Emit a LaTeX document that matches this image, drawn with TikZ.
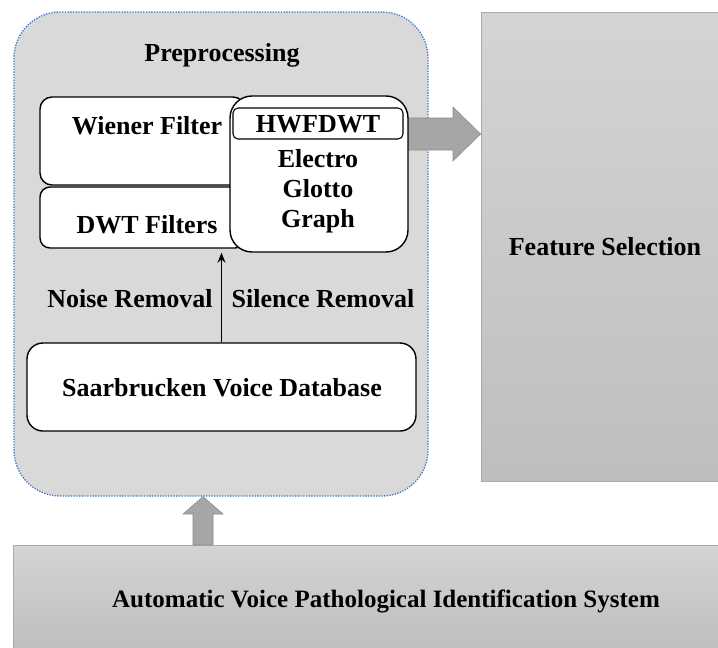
\documentclass[tikz,border=0pt]{standalone}
\usepackage{fontspec}
\setmainfont{Liberation Serif}
\usetikzlibrary{arrows.meta,calc}
\definecolor{pregray}{HTML}{D9D9D9}
\definecolor{dotblue}{HTML}{4472C4}
\definecolor{arrgray}{HTML}{A6A6A6}
\definecolor{arredge}{HTML}{8C8C8C}
\definecolor{gtop}{HTML}{D4D4D4}
\definecolor{gbot}{HTML}{BEBEBE}
\definecolor{gedge}{HTML}{ABABAB}
\begin{document}
\begin{tikzpicture}[x=1pt,y=-1pt,
  txt/.style={font=\fontsize{26}{30}\selectfont\bfseries, inner sep=0pt, align=center},
  whitebox/.style={draw=black, fill=white, line width=1.4pt, inner sep=0pt},
  gradbox/.style={draw=gedge, line width=0.8pt, top color=gtop, bottom color=gbot, inner sep=0pt},
  garrow/.style={fill=arrgray, draw=arredge, line width=0.6pt, line join=miter}]
\useasboundingbox (0,0) rectangle (718,648);
% Feature selection
\node[gradbox, minimum width=240, minimum height=469] (fs) at (601,246.5) {};
\node[txt] (fst) at (605,247) {Feature Selection};
% bottom system box
\node[gradbox, minimum width=710, minimum height=106] (sys) at (368,598) {};
\node[txt, font=\fontsize{25}{30}\selectfont\bfseries] (syst) at (386,601) {Automatic Voice Pathological Identification System};
% preprocessing container
\node[fill=pregray, draw=dotblue, line width=1.3pt, dash pattern=on 1.3pt off 1.4pt, rounded corners=46, minimum width=414, minimum height=484, inner sep=0pt] (pre) at (221,254) {};
\node[txt] (pret) at (222,55) {Preprocessing};
% right grey arrow
\draw[garrow] (408,118) -- (453,118) -- (453,107) -- (fs.west |- 0,134) -- (453,161) -- (453,150) -- (408,150) -- cycle;
% up grey arrow
\draw[garrow] (193,545) -- (193,514) -- (183,514) -- (pre.south -| 203,0) -- (223,514) -- (213,514) -- (213,545) -- cycle;
% inner boxes
\node[whitebox, rounded corners=12, minimum width=205, minimum height=88] (wf) at (142.5,141) {};
\node[txt] (wft) at (147,126) {Wiener Filter};
\node[whitebox, rounded corners=10, minimum width=205, minimum height=61] (dwt) at (142.5,217.5) {};
\node[txt] (dwtt) at (147,225) {DWT Filters};
\node[whitebox, rounded corners=22, minimum width=178, minimum height=156] (hw) at (319,174) {};
\node[whitebox, line width=1.1pt, rounded corners=5, minimum width=170, minimum height=31] (hwf) at (318,123.5) {};
\node[txt] (hwft) at (318,124) {HWFDWT};
\node[txt] (egg) at (318,191) {Electro\\[0pt]Glotto\\[0pt]Graph};
% database
\node[whitebox, rounded corners=16, minimum width=389, minimum height=88] (svd) at (221.5,387) {};
\node[txt] (svdt) at (222,388) {Saarbrucken Voice Database};
% connector
\draw[line width=1.5pt, -{Stealth[length=10pt,width=8pt]}] (svd.north) -- (svd.north |- hw.south);
\node[txt] (nr) at (130,299) {Noise Removal};
\node[txt] (sr) at (323,299) {Silence Removal};
\end{tikzpicture}
\end{document}
